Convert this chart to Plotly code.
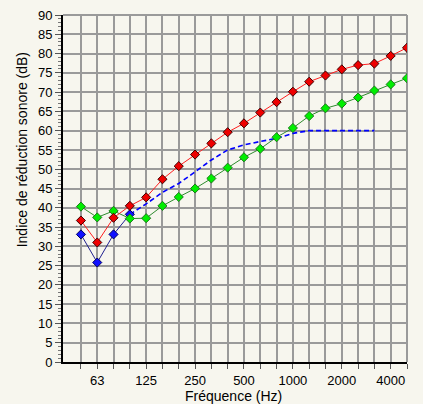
import plotly.graph_objects as go

bands = [50, 63, 80, 100, 125, 160, 200, 250, 315, 400, 500, 630, 800,
         1000, 1250, 1600, 2000, 2500, 3150, 4000, 5000]
labelled = [63, 125, 250, 500, 1000, 2000, 4000]

red = [36.7, 31.0, 37.4, 40.5, 42.7, 47.4, 50.8, 53.8, 56.7, 59.6, 61.9,
       64.7, 67.4, 70.1, 72.7, 74.3, 75.9, 77.0, 77.4, 79.4, 81.5]
green = [40.3, 37.5, 39.2, 37.2, 37.3, 40.5, 42.8, 45.0, 47.6, 50.4, 53.1,
         55.3, 58.3, 60.7, 63.8, 65.8, 67.0, 68.6, 70.4, 72.0, 73.6]
blue_bands = [50, 63, 80, 100]
blue = [33.1, 25.8, 33.1, 38.3]
blue_dash_bands = [100, 125, 160, 200, 250, 315, 400, 500, 630, 800, 1000,
                   1250, 1600, 2000, 2500, 3150]
blue_dash = [38.3, 41.0, 44.0, 46.3, 49.3, 52.4, 55.0, 56.3, 57.2, 58.0,
             59.3, 60.0, 60.0, 60.0, 60.0, 60.0]

x_title = "Fréquence (Hz)"
y_title = "Indice de réduction sonore (dB)"

idx = {b: i for i, b in enumerate(bands)}
BG = "#f7f6ee"
FONT = "Liberation Sans, Arial, sans-serif"

fig = go.Figure()
fig.add_trace(go.Scatter(x=[idx[b] for b in blue_dash_bands], y=blue_dash,
                         mode="lines", line=dict(color="#0000ff", width=1.6, dash="5px,3px"),
                         showlegend=False))
fig.add_trace(go.Scatter(x=[idx[b] for b in blue_bands], y=blue,
                         mode="lines+markers", line=dict(color="#202090", width=1),
                         marker=dict(symbol="diamond", size=7, color="#1010ff",
                                     line=dict(color="#000060", width=1)),
                         showlegend=False))
fig.add_trace(go.Scatter(x=[idx[b] for b in bands], y=green,
                         mode="lines+markers", line=dict(color="#2e8b2e", width=1),
                         marker=dict(symbol="diamond", size=7, color="#00ee00",
                                     line=dict(color="#1a7a1a", width=1)),
                         showlegend=False))
fig.add_trace(go.Scatter(x=[idx[b] for b in bands], y=red,
                         mode="lines+markers", line=dict(color="#ff2020", width=1),
                         marker=dict(symbol="diamond", size=7, color="#ee0000",
                                     line=dict(color="#400000", width=1)),
                         showlegend=False))

ticktext = [str(b) if b in labelled else "" for b in bands]

fig.update_layout(
    width=423, height=404,
    margin=dict(l=63, r=16, t=15, b=42),
    paper_bgcolor=BG, plot_bgcolor=BG,
    font=dict(family=FONT, size=13, color="#000000"),
    xaxis=dict(range=[-1.1, 20], tickmode="array",
               tickvals=list(range(len(bands))), ticktext=ticktext,
               showgrid=True, gridcolor="#9a9a9a", gridwidth=2,
               zeroline=False, showline=True, linecolor="#000000", linewidth=2,
               ticks="outside", ticklen=5, tickcolor="#555555", tickwidth=1,
               automargin=False),
    yaxis=dict(range=[0, 90], tickmode="linear", tick0=0, dtick=5,
               showgrid=True, gridcolor="#9a9a9a", gridwidth=2,
               zeroline=False, showline=True, linecolor="#000000", linewidth=2,
               ticks="outside", ticklen=6, tickcolor="#555555", tickwidth=1,
               minor=dict(dtick=1, ticks="outside", ticklen=3,
                          tickcolor="#777777", showgrid=False),
               automargin=False),
    shapes=[
        dict(type="line", xref="paper", yref="paper", x0=0, x1=1, y0=1, y1=1,
             line=dict(color="#9a9a9a", width=2), layer="below"),
        dict(type="line", xref="paper", yref="paper", x0=1, x1=1, y0=0, y1=1,
             line=dict(color="#9a9a9a", width=2), layer="below"),
    ],
    annotations=[
        dict(text=x_title, xref="paper", yref="paper", x=0.496, y=0,
             xanchor="center", yanchor="middle", yshift=-34, showarrow=False,
             font=dict(size=14)),
        dict(text=y_title, xref="paper", yref="paper", x=0, y=0.61,
             xanchor="center", yanchor="middle", xshift=-41, textangle=-90,
             showarrow=False, font=dict(size=14)),
    ],
)

fig.write_html("out.html")
